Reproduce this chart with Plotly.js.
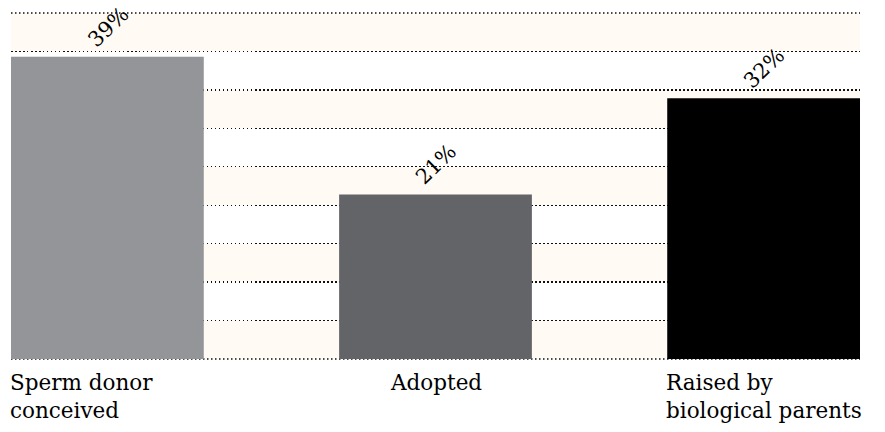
<!DOCTYPE html>
<html>
<head>
<meta charset="utf-8">
<script src="https://cdn.plot.ly/plotly-3.0.1.min.js"></script>
<style>html,body{margin:0;padding:0;background:#fff;}#chart{width:885px;height:432px;}</style>
</head>
<body>
<div id="chart"></div>
<script>
// Data
const categories = ["Sperm donor<br>conceived", "Adopted", "Raised by<br>biological parents"];
const values = [39.3, 21.4, 33.9];          // bar heights as drawn (percent)
const valueLabels = ["39%", "21%", "32%"];  // labels printed on the chart
const barColors = ["#939598", "#636467", "#000000"];
const labelAlign = ["left", "center", "left"];

const yMax = 45, yStep = 5, barWidth = 0.5875;
const font = "DejaVu Serif, serif";
const dotLine = {color: "#111", width: 1.3, dash: "1.5px,2.5px"};

const shapes = [];
for (let v = 0; v < yMax; v += 2 * yStep) {
  shapes.push({type: "rect", xref: "paper", yref: "y", x0: 0, x1: 1, y0: v, y1: v + yStep,
    fillcolor: "#fffaf3", line: {width: 0}, layer: "below"});
}
[0, 1].forEach(v => shapes.push({type: "line", xref: "paper", yref: "paper", x0: 0, x1: 1,
  y0: v, y1: v, line: dotLine, layer: "between"}));

const annotations = [];
categories.forEach((c, i) => {
  annotations.push({
    xref: "x", yref: "y", x: i, y: values[i], text: valueLabels[i], showarrow: false,
    textangle: -44, xanchor: "center", yanchor: "middle", xshift: 1, yshift: 30,
    font: {family: font, size: 21, color: "#000"}
  });
  const left = labelAlign[i] === "left";
  annotations.push({
    xref: "x", yref: "paper", x: left ? i - barWidth / 2 : i, y: 0, text: c, showarrow: false,
    xanchor: left ? "left" : "center", yanchor: "top", align: labelAlign[i],
    xshift: left ? -3 : 0, yshift: -9,
    font: {family: font, size: 21.5, color: "#000"}
  });
});

const trace = {
  type: "bar", x: categories, y: values, width: barWidth,
  marker: {color: barColors, line: {width: 0}}, hoverinfo: "none"
};

const layout = {
  width: 885, height: 432,
  margin: {l: 11, r: 25, t: 12.5, b: 73, pad: 0},
  paper_bgcolor: "#fff", plot_bgcolor: "#fff",
  showlegend: false,
  xaxis: {type: "category", range: [-barWidth / 2, categories.length - 1 + barWidth / 2],
    showticklabels: false, showgrid: false, zeroline: false, showline: false, ticks: ""},
  yaxis: {range: [0, yMax], dtick: yStep, tick0: 0, showticklabels: false, zeroline: false,
    showline: false, ticks: "", showgrid: true, gridcolor: dotLine.color, gridwidth: dotLine.width,
    griddash: dotLine.dash},
  shapes: shapes,
  annotations: annotations,
  font: {family: font}
};

Plotly.newPlot("chart", [trace], layout, {displayModeBar: false, staticPlot: true});
</script>
</body>
</html>
